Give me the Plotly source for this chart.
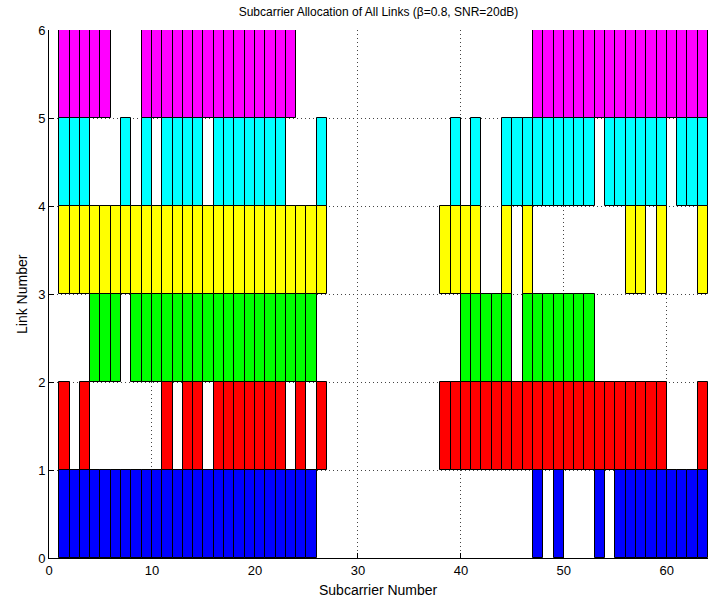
import plotly.graph_objects as go

def expand(spec):
    out = []
    for s in spec:
        if isinstance(s, tuple):
            out.extend(range(s[0], s[1] + 1))
        else:
            out.append(s)
    return out

# Subcarriers allocated to each link (bar for subcarrier k spans [k, k+1])
link1 = expand([(1, 25), 47, 49, 53, (55, 63)])
link2 = expand([1, 3, 11, 13, 14, (16, 22), 24, 26, (38, 59), 63])
link3 = expand([(4, 6), (8, 25), (40, 44), (46, 52)])
link4 = expand([(1, 26), (38, 41), 44, 46, 56, 57, 59, 63])
link5 = expand([(1, 3), 7, 9, (11, 14), (16, 22), 26, 39, 41, (44, 52), (54, 59), (61, 63)])
link6 = expand([(1, 5), (9, 23), (47, 63)])

links = [link1, link2, link3, link4, link5, link6]
colors = ["#0000ff", "#ff0000", "#00ff00", "#ffff00", "#00ffff", "#ff00ff"]

x_ticks = [0, 10, 20, 30, 40, 50, 60]
y_ticks = [0, 1, 2, 3, 4, 5, 6]

fig = go.Figure()
for i, (sc, col) in enumerate(zip(links, colors)):
    fig.add_trace(go.Bar(
        x=[k + 0.5 for k in sc],
        y=[1] * len(sc),
        base=[i] * len(sc),
        width=1,
        marker=dict(color=col, line=dict(color="black", width=1)),
        showlegend=False,
        hoverinfo="skip",
    ))

font = "Liberation Sans, Arial, Helvetica, sans-serif"
W, H = 709, 603
L, R, T, B = 49, 1, 30, 45
fig.update_layout(
    width=W, height=H,
    margin=dict(l=L, r=R, t=T, b=B, autoexpand=False),
    paper_bgcolor="white", plot_bgcolor="white",
    barmode="overlay",
    bargap=0,
    font=dict(family=font, size=13, color="black"),
    title=dict(text="Subcarrier Allocation of All Links (β=0.8, SNR=20dB)",
               x=(L + W - R) / 2 / W, xanchor="center", y=1 - 12 / H, yanchor="middle",
               font=dict(size=12, family=font)),
    annotations=[
        dict(text="Subcarrier Number", xref="paper", yref="paper",
             x=0.5, y=-(590 - (H - B)) / (H - T - B), xanchor="center", yanchor="middle",
             showarrow=False, font=dict(size=14)),
        dict(text="Link Number", xref="paper", yref="paper", textangle=-90,
             x=-(L - 22) / (W - L - R), y=0.5, xanchor="center", yanchor="middle",
             showarrow=False, font=dict(size=14)),
    ],
)
fig.update_xaxes(
    range=[0, 64], tickvals=x_ticks, ticks="inside", ticklen=5, tickcolor="black",
    showline=True, linecolor="black", linewidth=1, mirror=False,
    showgrid=True, gridcolor="#444444", griddash="1px,3px", gridwidth=1,
    zeroline=False, automargin=False,
    tickfont=dict(size=13),
)
fig.update_yaxes(
    range=[0, 6], tickvals=y_ticks, ticks="inside", ticklen=5, tickcolor="black",
    showline=True, linecolor="black", linewidth=1, mirror=False,
    showgrid=True, gridcolor="#444444", griddash="1px,3px", gridwidth=1,
    zeroline=False, automargin=False,
    tickfont=dict(size=13),
)

fig.write_html("out.html",
               config={"displayModeBar": False},
               post_script="document.body.style.margin='0';document.body.style.overflow='hidden';")
